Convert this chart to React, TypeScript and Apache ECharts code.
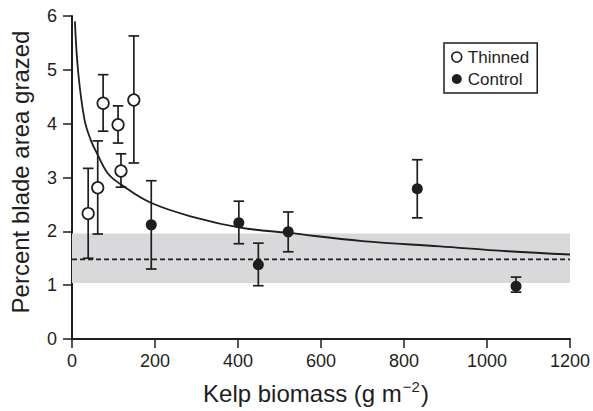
import React, { useEffect, useRef } from "react";
import * as echarts from "echarts";

const thinnedX = [39, 62, 75, 111, 118, 149];
const thinnedY = [2.33, 2.81, 4.38, 3.98, 3.12, 4.44];
const thinnedLow = [1.5, 1.95, 3.86, 3.64, 2.82, 3.27];
const thinnedHigh = [3.17, 3.68, 4.91, 4.33, 3.44, 5.63];

const controlX = [191, 402, 449, 521, 832, 1070];
const controlY = [2.12, 2.16, 1.38, 1.99, 2.79, 0.98];
const controlLow = [1.3, 1.77, 0.99, 1.62, 2.25, 0.87];
const controlHigh = [2.94, 2.56, 1.78, 2.36, 3.33, 1.15];

// fitted curve
const curveX = [7, 15, 30, 45, 62, 86, 118, 190, 300, 405, 522, 700, 887, 1050, 1200];
const curveY = [5.9, 4.95, 4.08, 3.7, 3.42, 3.08, 2.87, 2.53, 2.25, 2.07, 1.97, 1.82, 1.72, 1.63, 1.57];

const bandLow = 1.04;
const bandHigh = 1.96;
const meanLevel = 1.48;
const xRange = [0, 1200];

const FONT = "Liberation Sans, Arial, Helvetica, sans-serif";
const INK = "#1e1e1e";

function errorBarSeries(xs: number[], lows: number[], highs: number[]) {
  return {
    type: "custom",
    z: 3,
    silent: true,
    data: xs.map((x, i) => [x, lows[i], highs[i]]),
    renderItem: (_params: any, api: any) => {
      const x = api.value(0);
      const lo = api.coord([x, api.value(1)]);
      const hi = api.coord([x, api.value(2)]);
      const hw = 5.3;
      const style = { stroke: INK, lineWidth: 1.7, fill: null };
      return {
        type: "group",
        children: [
          { type: "line", shape: { x1: lo[0], y1: lo[1], x2: hi[0], y2: hi[1] }, style },
          { type: "line", shape: { x1: lo[0] - hw, y1: lo[1], x2: lo[0] + hw, y2: lo[1] }, style },
          { type: "line", shape: { x1: hi[0] - hw, y1: hi[1], x2: hi[0] + hw, y2: hi[1] }, style },
        ],
      };
    },
  };
}

export default function App() {
  const ref = useRef<HTMLDivElement>(null);
  useEffect(() => {
    if (!ref.current) return;
    const chart = echarts.init(ref.current, null, { renderer: "svg" });
    chart.setOption({
      animation: false,
      backgroundColor: "#fff",
      textStyle: { fontFamily: FONT, color: INK },
      grid: { left: 71, right: 23, top: 16, bottom: 71 },
      legend: {
        orient: "vertical",
        left: 444,
        top: 43,
        padding: [5, 8, 5, 7],
        itemGap: 4,
        itemWidth: 10,
        itemHeight: 10,
        borderColor: INK,
        borderWidth: 1.5,
        borderRadius: 0,
        textStyle: { fontFamily: FONT, fontSize: 17, lineHeight: 18, color: INK, padding: [0, 0, 0, 1] },
        data: [
          { name: "Thinned", icon: "circle", itemStyle: { color: "#fff", borderColor: INK, borderWidth: 1.6 } },
          { name: "Control", icon: "circle", itemStyle: { color: INK } },
        ],
      },
      xAxis: {
        type: "value",
        min: 0,
        max: 1200,
        interval: 200,
        name: "{a|Kelp biomass (g m}{s|−2}{a|)}",
        nameLocation: "middle",
        nameGap: 40,
        nameTextStyle: {
          padding: [0, 10, 0, 0],
          rich: {
            a: { fontFamily: FONT, fontSize: 24, color: INK, verticalAlign: "bottom", lineHeight: 26 },
            s: { fontFamily: FONT, fontSize: 15, color: INK, verticalAlign: "top", lineHeight: 26, padding: [0, 1, 12, 1] },
          },
        },
        axisLine: { show: true, onZero: false, lineStyle: { color: INK, width: 2 } },
        axisTick: { show: true, length: 9, lineStyle: { color: INK, width: 1.5 } },
        axisLabel: { fontFamily: FONT, fontSize: 18, color: INK, margin: 13, formatter: (v: number) => String(v) },
        splitLine: { show: false },
      },
      yAxis: {
        type: "value",
        min: 0,
        max: 6,
        interval: 1,
        name: "Percent blade area grazed",
        nameLocation: "middle",
        nameGap: 40,
        nameTextStyle: { fontFamily: FONT, fontSize: 24, color: INK, padding: [0, 0, 0, 11] },
        axisLine: { show: true, onZero: false, lineStyle: { color: INK, width: 2 } },
        axisTick: { show: true, length: 9, lineStyle: { color: INK, width: 1.5 } },
        axisLabel: { fontFamily: FONT, fontSize: 18, color: INK, margin: 15, formatter: (v: number) => String(v) },
        splitLine: { show: false },
      },
      series: [
        {
          name: "band",
          type: "line",
          data: [],
          silent: true,
          markArea: {
            silent: true,
            itemStyle: { color: "#d9d9db" },
            data: [[{ xAxis: xRange[0], yAxis: bandLow }, { xAxis: xRange[1], yAxis: bandHigh }]],
          },
          z: 1,
        },
        {
          name: "mean",
          type: "line",
          data: [[xRange[0], meanLevel], [xRange[1], meanLevel]],
          symbol: "none",
          silent: true,
          lineStyle: { color: INK, width: 1.6, type: [5, 3] },
          z: 2,
        },
        {
          name: "fit",
          type: "line",
          data: curveX.map((x, i) => [x, curveY[i]]),
          symbol: "none",
          smooth: 0.4,
          silent: true,
          lineStyle: { color: INK, width: 1.8 },
          z: 2,
        },
        errorBarSeries(thinnedX, thinnedLow, thinnedHigh),
        errorBarSeries(controlX, controlLow, controlHigh),
        {
          name: "Thinned",
          type: "scatter",
          data: thinnedX.map((x, i) => [x, thinnedY[i]]),
          symbol: "circle",
          symbolSize: 11.5,
          itemStyle: { color: "#fff", borderColor: INK, borderWidth: 1.7, opacity: 1 },
          z: 5,
        },
        {
          name: "Control",
          type: "scatter",
          data: controlX.map((x, i) => [x, controlY[i]]),
          symbol: "circle",
          symbolSize: 11,
          itemStyle: { color: INK, opacity: 1 },
          z: 5,
        },
      ],
    });
    return () => chart.dispose();
  }, []);
  return <div ref={ref} style={{ width: 593, height: 411, position: "absolute", left: 0, top: 0 }} />;
}
